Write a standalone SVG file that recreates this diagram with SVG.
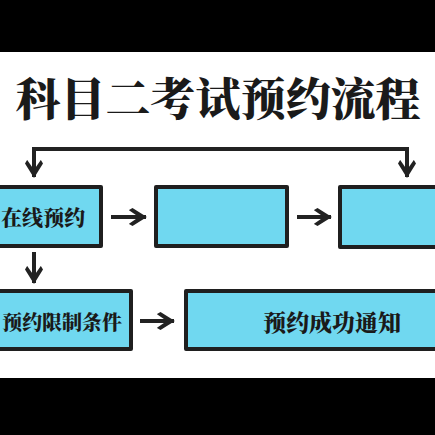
<svg xmlns="http://www.w3.org/2000/svg" width="435" height="435" viewBox="0 0 435 435">
<defs>
<style>
.box{fill:#70D8F0;stroke:#1f1f1f;stroke-width:4;stroke-linejoin:round}
.lbl{font-family:"Noto Serif CJK SC","Noto Sans CJK SC",sans-serif;font-weight:900;fill:#1a1a1a;text-anchor:middle;dominant-baseline:central}
.ln{fill:none;stroke:#222;stroke-width:4}
</style>
<marker id="ah" viewBox="0 0 10 10" refX="9.5" refY="5" markerWidth="4.5" markerHeight="4.5" orient="auto" markerUnits="strokeWidth">
<path d="M0,1.2 L2,0 L10,5 L2,10 L0,8.8 L5.5,5 Z" fill="#222"/>
</marker>
</defs>
<rect width="435" height="435" fill="#fff"/>
<rect x="0" y="0" width="435" height="52" fill="#000"/>
<rect x="0" y="378" width="435" height="57" fill="#000"/>
<text x="218" y="96" class="lbl" font-size="45">科目二考试预约流程</text>
<g id="connectors">
<path class="ln" d="M34,160 V149 H407 V160" stroke-linejoin="miter"/>
<path class="ln" d="M34,149 V177" marker-end="url(#ah)"/>
<path class="ln" d="M407,149 V177" marker-end="url(#ah)"/>
<path class="ln" d="M111,217 H146" marker-end="url(#ah)"/>
<path class="ln" d="M297,217 H331" marker-end="url(#ah)"/>
<path class="ln" d="M34,252 V283" marker-end="url(#ah)"/>
<path class="ln" d="M140,321 H174" marker-end="url(#ah)"/>
</g>
<g id="n1"><rect class="box" x="-20" y="187" width="121" height="59"/><text class="lbl" x="43" y="216" font-size="21">在线预约</text></g>
<g id="n2"><rect class="box" x="156" y="187" width="131" height="59"/></g>
<g id="n3"><rect class="box" x="340" y="187" width="110" height="60"/></g>
<g id="n4"><rect class="box" x="-20" y="291" width="151" height="58"/><text class="lbl" x="62" y="321" font-size="20">预约限制条件</text></g>
<g id="n5"><rect class="box" x="186" y="291" width="264" height="58"/><text class="lbl" x="332" y="321" font-size="23">预约成功通知</text></g>
</svg>
